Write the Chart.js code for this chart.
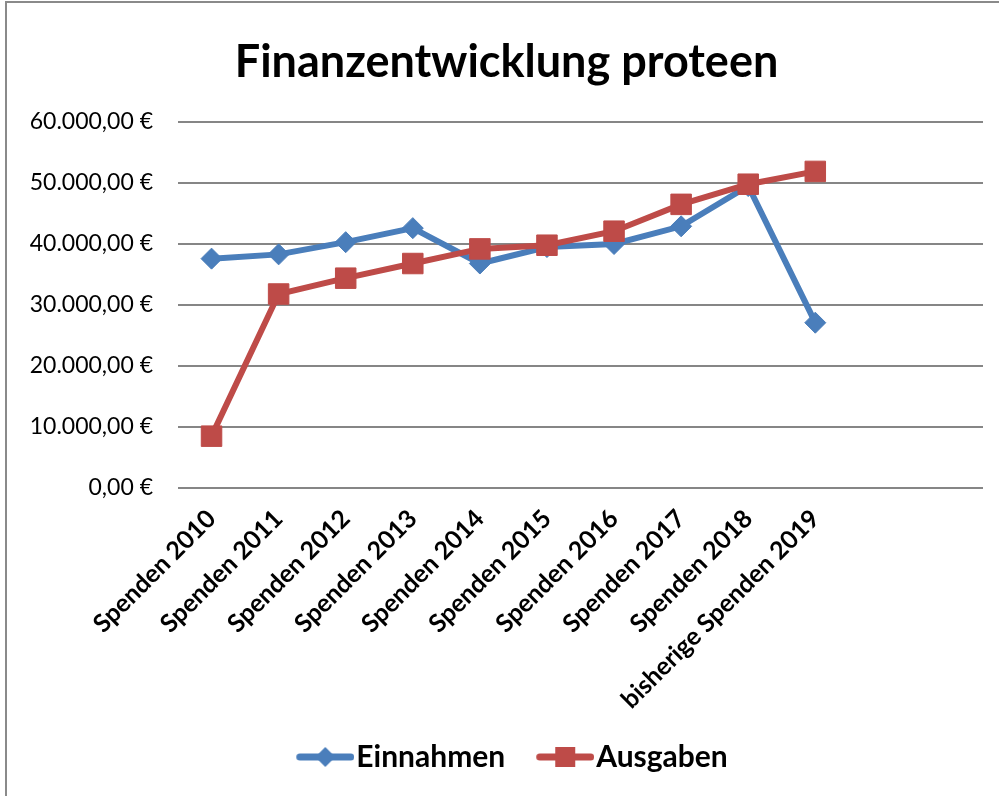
<!DOCTYPE html>
<html><head><meta charset="utf-8">
<script src="https://cdn.jsdelivr.net/npm/chart.js@4"></script>
<style>html,body{margin:0;padding:0;background:#fff;overflow:hidden}</style>
</head><body>
<canvas id="c" width="999" height="796" style="display:block"></canvas>
<script>
const categories = ['Spenden 2010','Spenden 2011','Spenden 2012','Spenden 2013','Spenden 2014','Spenden 2015','Spenden 2016','Spenden 2017','Spenden 2018','bisherige Spenden 2019','',''];
const einnahmen = [37600, 38300, 40300, 42600, 36800, 39500, 40000, 42900, 49500, 27100];
const ausgaben = [8500, 31800, 34400, 36800, 39200, 39800, 42100, 46500, 49800, 51900];
const yTickValues = [0, 10000, 20000, 30000, 40000, 50000, 60000];
const seriesNames = ['Einnahmen', 'Ausgaben'];
const blue = '#4A7EBB', red = '#BE4B48';

function fmtEuro(v){
  const s = Math.round(v).toString().replace(/\B(?=(\d{3})+(?!\d))/g, '.');
  return s + ',00 €';
}
// legend icon: transparent left part, then line with marker
function icon(color, shape){
  const c = document.createElement('canvas');
  c.width = 82; c.height = 24;
  const x = c.getContext('2d');
  x.strokeStyle = color; x.lineWidth = 7; x.lineCap = 'round';
  x.beginPath(); x.moveTo(27.5, 12); x.lineTo(78.5, 12); x.stroke();
  x.fillStyle = color;
  const cx = 53;
  if (shape === 'diamond') {
    x.beginPath(); x.moveTo(cx, 2); x.lineTo(cx + 10, 12); x.lineTo(cx, 22); x.lineTo(cx - 10, 12); x.closePath(); x.fill();
  } else {
    x.fillRect(cx - 10, 2, 20, 20);
  }
  return c;
}
const frame = {
  id: 'frame',
  beforeDraw(chart){
    const ctx = chart.ctx;
    ctx.save();
    ctx.fillStyle = '#fff'; ctx.fillRect(0, 0, chart.width, chart.height);
    ctx.strokeStyle = '#8a8a8a'; ctx.lineWidth = 2;
    ctx.beginPath(); ctx.moveTo(6, 800); ctx.lineTo(6, 2); ctx.lineTo(1000, 2); ctx.stroke();
    ctx.restore();
  }
};
const icons = [icon(blue, 'diamond'), icon(red, 'square')];

new Chart(document.getElementById('c'), {
  type: 'line',
  data: {
    labels: categories,
    datasets: [
      { label: seriesNames[0], data: einnahmen, borderColor: blue, backgroundColor: blue, borderWidth: 6,
        pointStyle: 'rectRot', pointRadius: 10.5, pointHoverRadius: 10.5, pointBorderWidth: 1, pointBackgroundColor: blue, pointBorderColor: blue, order: 1, tension: 0 },
      { label: seriesNames[1], data: ausgaben, borderColor: red, backgroundColor: red, borderWidth: 6,
        pointStyle: 'rect', pointRadius: 14.5, pointHoverRadius: 14.5, pointBorderWidth: 1, pointBackgroundColor: red, pointBorderColor: red, order: 0, tension: 0 }
    ]
  },
  options: {
    responsive: false,
    animation: false,
    devicePixelRatio: 1,
    layout: { padding: { left: 30, right: 16, top: 0, bottom: 14 } },
    plugins: {
      tooltip: { enabled: false },
      title: { display: true, text: 'Finanzentwicklung proteen', color: '#000',
        font: { family: 'Lato', size: 45, weight: 'bold', lineHeight: 1.2 },
        padding: { top: 35, bottom: 33 } },
      legend: { position: 'bottom',
        labels: { usePointStyle: true, pointStyleWidth: 56, padding: 20, color: '#000',
          font: { family: 'Lato', size: 30, weight: 'bold' },
          generateLabels: (chart) => seriesNames.map((n, i) => ({ text: n, pointStyle: icons[i], fontColor: '#000', hidden: false, datasetIndex: i, lineWidth: 0, strokeStyle: 'transparent', fillStyle: 'transparent' })) } }
    },
    scales: {
      x: { type: 'category', offset: true,
        grid: { display: false }, border: { display: false },
        afterFit: (s) => { s.height = 234; },
        ticks: { autoSkip: false, maxRotation: 45, minRotation: 45, padding: 8, color: '#000',
          font: { family: 'Lato', size: 25, weight: 'bold' } } },
      y: { min: 0, max: 60000,
        afterFit: (s) => { s.width = 148; },
        afterBuildTicks: (s) => { s.ticks = yTickValues.map(v => ({ value: v })); },
        grid: { color: '#868686', lineWidth: 2, drawTicks: false }, border: { display: false },
        ticks: { padding: 25, color: '#000', callback: (v) => fmtEuro(v),
          font: { family: 'Lato', size: 23 } } }
    }
  },
  plugins: [frame]
});
</script>
</body></html>
